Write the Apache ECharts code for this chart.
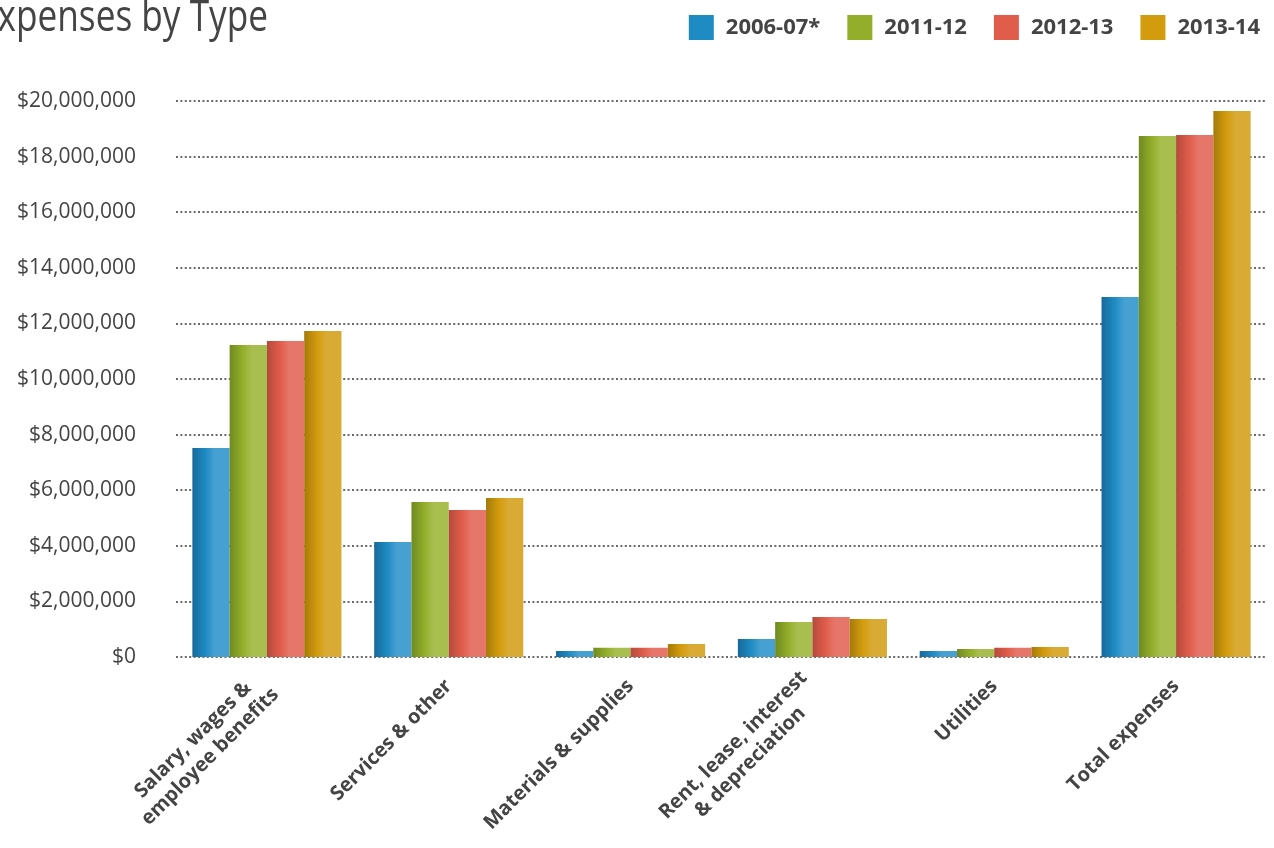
<!DOCTYPE html>
<html><head><meta charset="utf-8">
<script src="https://cdn.jsdelivr.net/npm/echarts@6/dist/echarts.min.js"></script>
<style>html,body{margin:0;padding:0;background:#fff}#c{width:1274px;height:848px}</style>
</head><body><div id="c"></div>
<script>
const categories = ['Salary, wages &\nemployee benefits', 'Services & other', 'Materials & supplies', 'Rent, lease, interest\n& depreciation', 'Utilities', 'Total expenses'];
const seriesNames = ['2006-07*', '2011-12', '2012-13', '2013-14'];
const v2006 = [7520000, 4140000, 220000, 650000, 220000, 12950000];
const v2011 = [11220000, 5580000, 330000, 1260000, 290000, 18740000];
const v2012 = [11370000, 5290000, 330000, 1440000, 330000, 18780000];
const v2013 = [11730000, 5720000, 470000, 1370000, 360000, 19640000];
const yTicks = { min: 0, max: 20000000, interval: 2000000 };
const titleText = 'Expenses by Type';

const palette = [
  ['#17699a', '#1e8bc3', '#46a0d2'],
  ['#6f8a1f', '#93ae2a', '#a8bf4f'],
  ['#b44a3c', '#e05c4b', '#e6766a'],
  ['#a47a08', '#d39c0e', '#d9ab34']
];
function grad(p){
  return new echarts.graphic.LinearGradient(0,0,1,0,[
    {offset:0,color:p[0]},{offset:0.35,color:p[1]},{offset:0.6,color:p[2]},{offset:1,color:p[2]}
  ]);
}
const values = [v2006, v2011, v2012, v2013];
const chart = echarts.init(document.getElementById('c'));
const font = '"Open Sans", "Noto Sans", sans-serif';
chart.setOption({
  animation: false,
  graphic: [{
    type: 'text', x: -22, y: -4, scaleX: 0.8, scaleY: 1,
    style: { text: titleText, fontFamily: '"Open Sans", sans-serif', fontSize: 44, fill: '#444', textVerticalAlign: 'top' }
  }],
  legend: {
    data: seriesNames.map((n,i)=>({name:n, itemStyle:{color:palette[i][1]}})),
    right: 9, top: 10, itemWidth: 25, itemHeight: 25, itemGap: 27,
    icon: 'rect',
    textStyle: { fontFamily: font, fontSize: 22, fontWeight: 'bold', color: '#444', padding:[0,0,0,7] }
  },
  grid: { left: 176, right: 7, top: 101, bottom: 191, containLabel: false },
  xAxis: {
    type: 'category', data: categories,
    axisLine: { show: false }, axisTick: { show: false },
    axisLabel: { rotate: 45, interval: 0, margin: 26, color: '#444',
      formatter: s => s.split('\n').map(l => '{c|' + l + '}').join('\n'),
      rich: { c: { align: 'center', fontFamily: font, fontSize: 20, fontWeight: 'bold', color: '#444', lineHeight: 24 } }
    }
  },
  yAxis: {
    type: 'value', min: yTicks.min, max: yTicks.max, interval: yTicks.interval,
    axisLine: { show: false }, axisTick: { show: false },
    axisLabel: { margin: 40, fontFamily: font, fontSize: 21, color: '#444', verticalAlign: 'middle',
      formatter: v => '$' + v.toLocaleString('en-US') },
    splitLine: { show: true, lineStyle: { color: '#6a6a6a', width: 2.2, type: [2, 2.4] } }
  },
  series: values.map((d,i)=>({
    name: seriesNames[i], type: 'bar', data: d,
    barGap: '0%', barCategoryGap: '18%',
    itemStyle: { color: grad(palette[i]) }
  }))
});
</script></body></html>
